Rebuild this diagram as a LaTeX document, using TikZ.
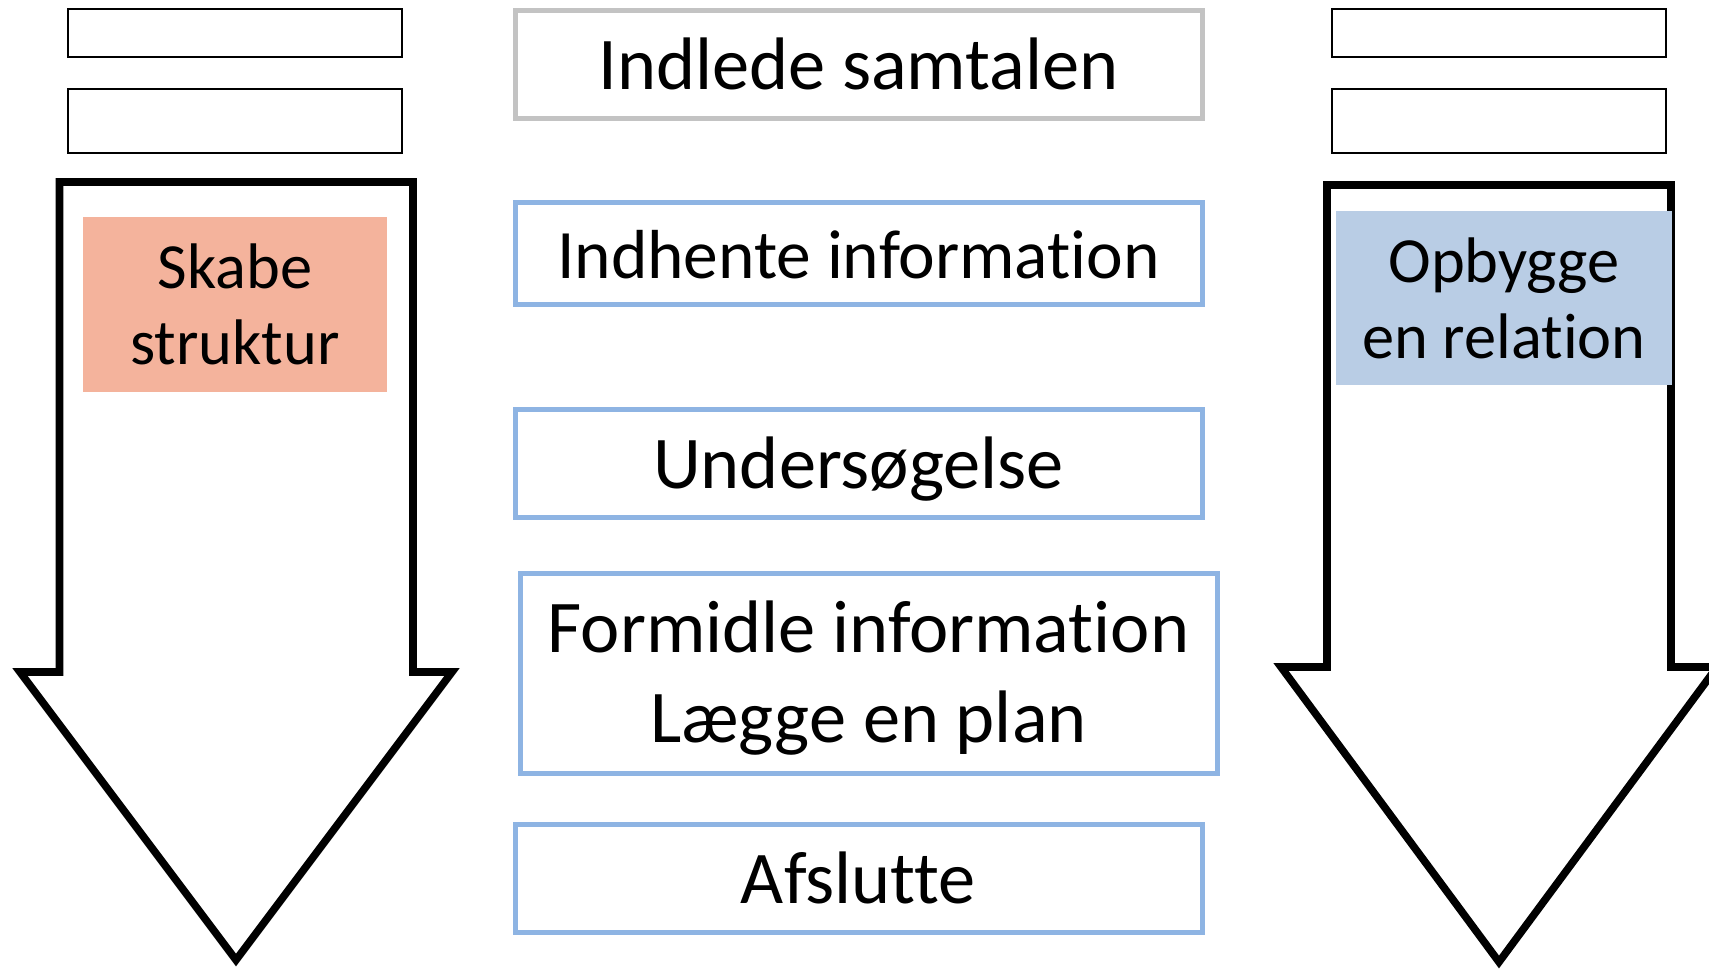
\documentclass[tikz,border=0pt]{standalone}
\usepackage{fontspec}
\setmainfont{Carlito}[Ligatures=NoCommon]
\usetikzlibrary{positioning}
\definecolor{fasekant}{HTML}{8EB4E3}
\definecolor{startkant}{HTML}{C3C3C3}
\definecolor{laks}{HTML}{F4B39C}
\definecolor{lyseblaa}{HTML}{B9CDE5}
\tikzset{
	fase/.style={
		rectangle,
		draw=fasekant, line width=2.5pt,
		minimum width=343.5pt,
		minimum height=54pt,
		inner sep=0pt,
		text height=28pt,
		text depth=3pt,
		align=center,
		font=\fontsize{37.2}{45}\selectfont},
	tomboks/.style={
		rectangle,
		draw=black, line width=0.9pt,
		minimum width=167pt,
		inner sep=0pt},
	pil/.style={draw=black, line width=3.8pt, fill=white},
	maal/.style={
		rectangle,
		inner sep=0pt,
		align=center,
		font=\fontsize{32.2}{38}\selectfont},
}
\begin{document}
\begin{tikzpicture}
	[x=0.5pt, y=-0.5pt, node distance=40pt]
	\useasboundingbox (0,0) rectangle (1709,969);

	% de to store pile
	\draw[pil] (59.5,182) -- (413,182) -- (413,672) -- (452,672) -- (236,960) -- (20,672) -- (59.5,672) -- cycle;
	\draw[pil] (1327,185) -- (1671,185) -- (1671,667) -- (1717,667) -- (1499,962) -- (1281,667) -- (1327,667) -- cycle;

	\node[tomboks, minimum height=24pt] (venstreEt) at (235,33) {};
	\node[tomboks, minimum height=32pt] (venstreTo) at (235,121) {};
	\node[tomboks, minimum height=24pt] (hoejreEt) at (1499,33) {};
	\node[tomboks, minimum height=32pt] (hoejreTo) at (1499,121) {};

	\node[maal, fill=laks, minimum width=152pt, minimum height=87.5pt] (struktur) at (235,304.5) {Skabe\\struktur};
	\node[maal, fill=lyseblaa, minimum width=168pt, minimum height=87pt] (relation) at (1504,298) {Opbygge\\en relation};

	\node[fase, draw=startkant] (indlede) at (858.5,64) {Indlede samtalen};
	\node[fase, minimum height=51pt, font=\fontsize{34.7}{42}\selectfont, below=39.5pt of indlede] (indhente) {Indhente information};
	\node[fase, below=50pt of indhente] (undersoeg) {Undersøgelse};
	\node[fase, minimum width=348.5pt, minimum height=100pt, text height=73pt, text depth=4pt, below=25.5pt of undersoeg, xshift=5pt] (formidle) {Formidle information\\Lægge en plan};
	\node[fase, below=23pt of formidle, xshift=-5pt] (afslutte) {Afslutte};
\end{tikzpicture}
\end{document}
